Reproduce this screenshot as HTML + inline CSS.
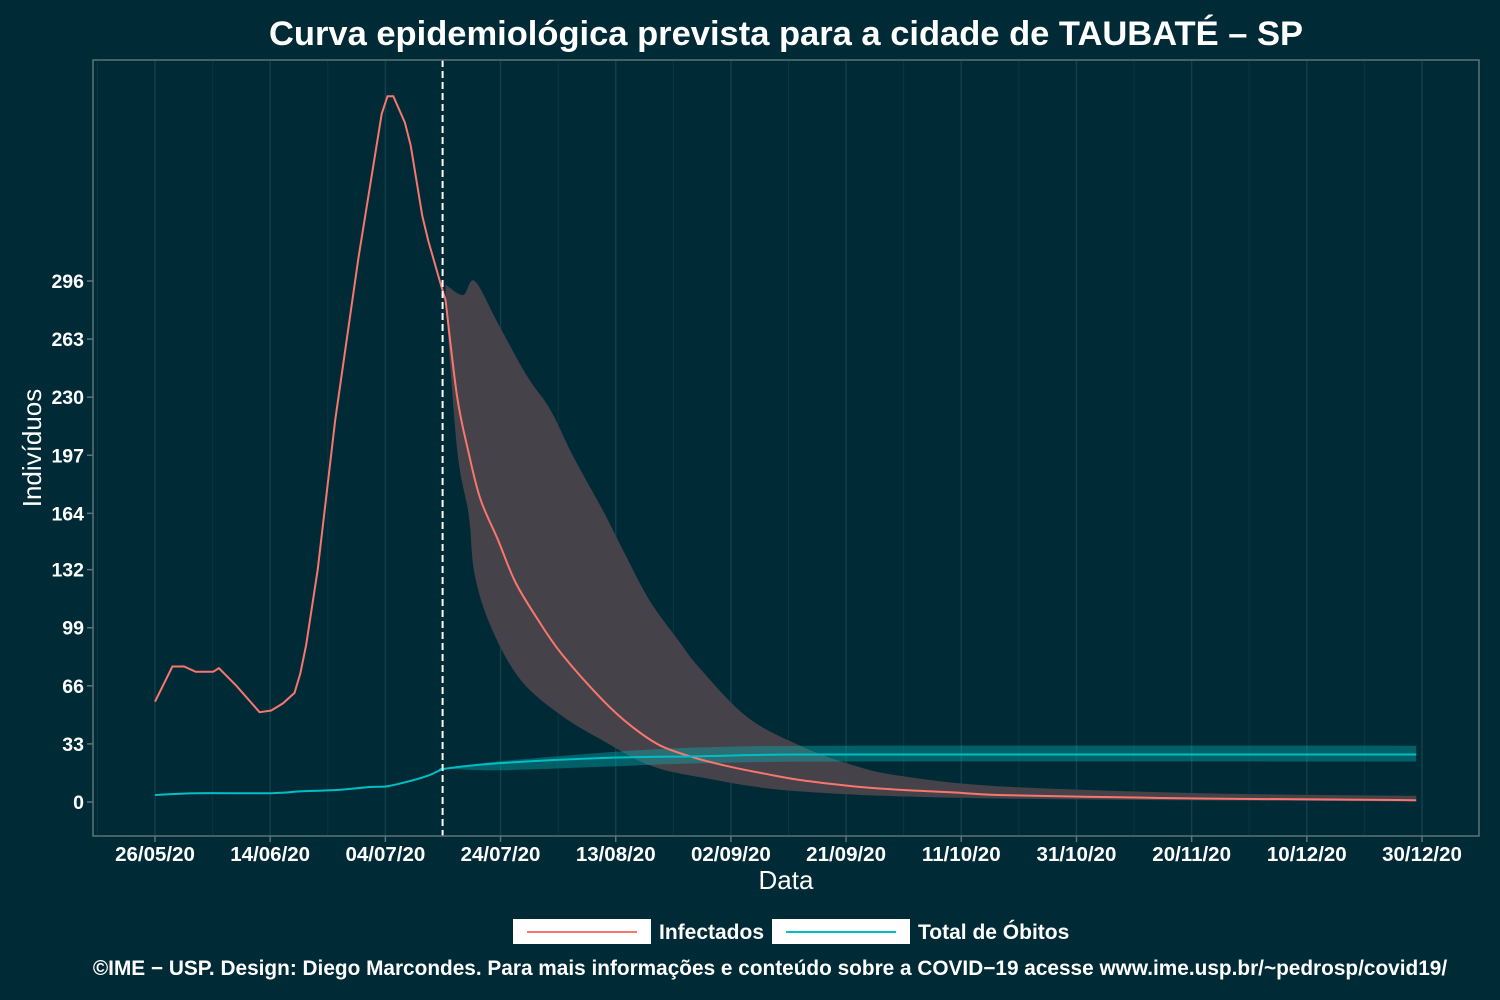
<!DOCTYPE html>
<html><head><meta charset="utf-8">
<style>
html,body{margin:0;padding:0;background:#002b36;}
svg{display:block;font-family:"Liberation Sans",Arial,sans-serif;}
</style></head>
<body>
<svg id="chart" width="1500" height="1000" viewBox="0 0 1500 1000">
<rect x="0" y="0" width="1500" height="1000" fill="#002b36"/>
<text x="786" y="45" text-anchor="middle" fill="#fff" font-size="34.5" font-weight="bold">Curva epidemiológica prevista para a cidade de TAUBATÉ – SP</text>
<g id="grid"></g>
<g id="marks"></g>
<rect x="93" y="60" width="1386" height="776" fill="none" stroke="#5d7378" stroke-width="1.5"/>
<g id="axes"></g>
<text x="786" y="889" text-anchor="middle" fill="#fff" font-size="26">Data</text>
<text transform="translate(41,448) rotate(-90)" text-anchor="middle" fill="#fff" font-size="26">Indivíduos</text>
<g>
<g>
<rect x="513" y="919" width="138" height="25" fill="#fff"/>
<line x1="527" y1="932" x2="637" y2="932" stroke="#f8766d" stroke-width="2"/>
<text x="659" y="939" fill="#fff" font-size="21" font-weight="bold">Infectados</text>
</g>
<g>
<rect x="772" y="919" width="138" height="25" fill="#fff"/>
<line x1="786" y1="932" x2="896" y2="932" stroke="#00bfc4" stroke-width="2"/>
<text x="918" y="939" fill="#fff" font-size="21" font-weight="bold">Total de Óbitos</text>
</g>
</g>
<text x="770" y="975" text-anchor="middle" fill="#fff" font-size="20.8" font-weight="bold">©IME − USP. Design: Diego Marcondes. Para mais informações e conteúdo sobre a COVID−19 acesse www.ime.usp.br/~pedrosp/covid19/</text>
</svg>
<script>
const xTickLabels = ["26/05/20","14/06/20","04/07/20","24/07/20","13/08/20","02/09/20","21/09/20","11/10/20","31/10/20","20/11/20","10/12/20","30/12/20"];
const yTicks = [0,33,66,99,132,164,197,230,263,296];
const obsDays = [0,3,5,7,10,11,14,18,20,22,24,25,26,28,31,35,39,40,41,43,44,46,47,49,50];
const obsInfected = [57,77,77,74,74,76,66,51,52,56,62,73,89,132,217,309,391,401,401,386,373,333,319,296,285];
const fcDays = [50,52,54,56,59,62,66,70,77,82,87,93,99,105,111,120,128,137,145,160,180,200,217];
const fcInfected = [285,230,198,172,149,125,103,84,58,43,32,25,20,16,12.5,9,7,5.5,4,3,2,1.5,1];
const bandUpDays = [50,53,55,59,64,68,72,77,81,85,90,94,102,111,120,128,145,180,217];
const bandUp = [294,288,296,272,242,223,196,166,140,115,92,75,48,32,21,15,9,5,3.5];
const bandLoDays = [50,52,54,55,58,63,70,77,85,94,111,145,217];
const bandLo = [285,200,163,129,98,69,49,35,21,14,6,2,0.3];
const deathDays = [0,7,20,25,32,37,40,44,47,49,50,59,77,94,111,150,217];
const deaths = [4,5,5,6,7,8.5,9,12,15,18,19,22,25,26,27,27,27];
const dBandDays = [50,59,77,94,120,217];
const dBandUp = [19,23,28,31,32,32];
const dBandLo = [19,18,20,22,23,23];
const forecastStartDay = 50;
const totalDays = 218;

const NS = "http://www.w3.org/2000/svg";
const X0 = 155, X1 = 1422, Y0 = 802, YS = (802 - 281) / 296;
function xs(d){ return X0 + d * (X1 - X0) / totalDays; }
function ys(v){ return Y0 - v * YS; }
function mk(tag, attrs, parent){
  const e = document.createElementNS(NS, tag);
  for (const k in attrs) e.setAttribute(k, attrs[k]);
  parent.appendChild(e);
  return e;
}
const grid = document.getElementById('grid');
const marks = document.getElementById('marks');
const axes = document.getElementById('axes');
const step = totalDays / (xTickLabels.length - 1);
for (let i = -1; i < xTickLabels.length; i++) {
  const xm = xs((i + 0.5) * step);
  if (xm > 93 && xm < 1479) {
    const gm = mk('line', {x1:xm, x2:xm, y1:60, y2:836, stroke:'#0c3641', 'stroke-width':1}, grid);
    
    
  }
}
for (let i = 0; i < xTickLabels.length; i++) {
  const x = xs(i * step);
  const g = mk('line', {x1:x, x2:x, y1:60, y2:836, stroke:'#123f4a', 'stroke-width':1.5}, grid);
  
  
  const t = mk('line', {x1:x, x2:x, y1:836, y2:842, stroke:'#5d7378', 'stroke-width':1.5}, axes);
  
  
  const l = mk('text', {x:x, y:861, 'text-anchor':'middle', fill:'#fff', 'font-size':20.5, 'font-weight':'bold'}, axes);
  l.textContent = xTickLabels[i];
  
  
}
for (const v of yTicks) {
  const y = ys(v);
  const t = mk('line', {x1:87, x2:93, y1:y, y2:y, stroke:'#5d7378', 'stroke-width':1.5}, axes);
  
  
  const l = mk('text', {x:84, y:y + 7, 'text-anchor':'end', fill:'#fff', 'font-size':19.5, 'font-weight':'bold'}, axes);
  l.textContent = v;
  
  
}
function P(days, vals){ return days.map((d,i)=>[xs(d), ys(vals[i])]); }
function smooth(p, move){
  let s = (move ? 'M' : 'L') + p[0][0].toFixed(1) + ',' + p[0][1].toFixed(1);
  for (let i = 0; i < p.length - 1; i++) {
    const p0 = p[i-1] || p[i], p1 = p[i], p2 = p[i+1], p3 = p[i+2] || p2;
    const c1 = [p1[0] + (p2[0]-p0[0])/6, p1[1] + (p2[1]-p0[1])/6];
    const c2 = [p2[0] - (p3[0]-p1[0])/6, p2[1] - (p3[1]-p1[1])/6];
    s += ' C' + c1.map(v=>v.toFixed(1)).join(',') + ' ' + c2.map(v=>v.toFixed(1)).join(',') + ' ' + p2.map(v=>v.toFixed(1)).join(',');
  }
  return s;
}
function lin(p, move){ return p.map((q,i)=>((i===0&&move)?'M':'L')+q[0].toFixed(1)+','+q[1].toFixed(1)).join(' '); }
const ib = mk('path', {d: smooth(P(bandUpDays, bandUp), true) + ' ' + smooth(P(bandLoDays, bandLo).reverse(), false) + ' Z', fill:'#45424a'}, marks);


const db = mk('path', {d: smooth(P(dBandDays, dBandUp), true) + ' ' + smooth(P(dBandDays, dBandLo).reverse(), false) + ' Z', fill:'#00bfc4', 'fill-opacity':0.35}, marks);


const il = mk('path', {d: lin(P(obsDays, obsInfected), true) + ' ' + smooth(P(fcDays, fcInfected), false), fill:'none', stroke:'#f8766d', 'stroke-width':2}, marks);


const dl = mk('path', {d: smooth(P(deathDays, deaths), true), fill:'none', stroke:'#00bfc4', 'stroke-width':2}, marks);


const xv = xs(forecastStartDay) - 3;
const vl = mk('line', {x1:xv, x2:xv, y1:60, y2:836, stroke:'#fff', 'stroke-width':2, 'stroke-dasharray':'7,4'}, marks);


</script>
</body></html>
